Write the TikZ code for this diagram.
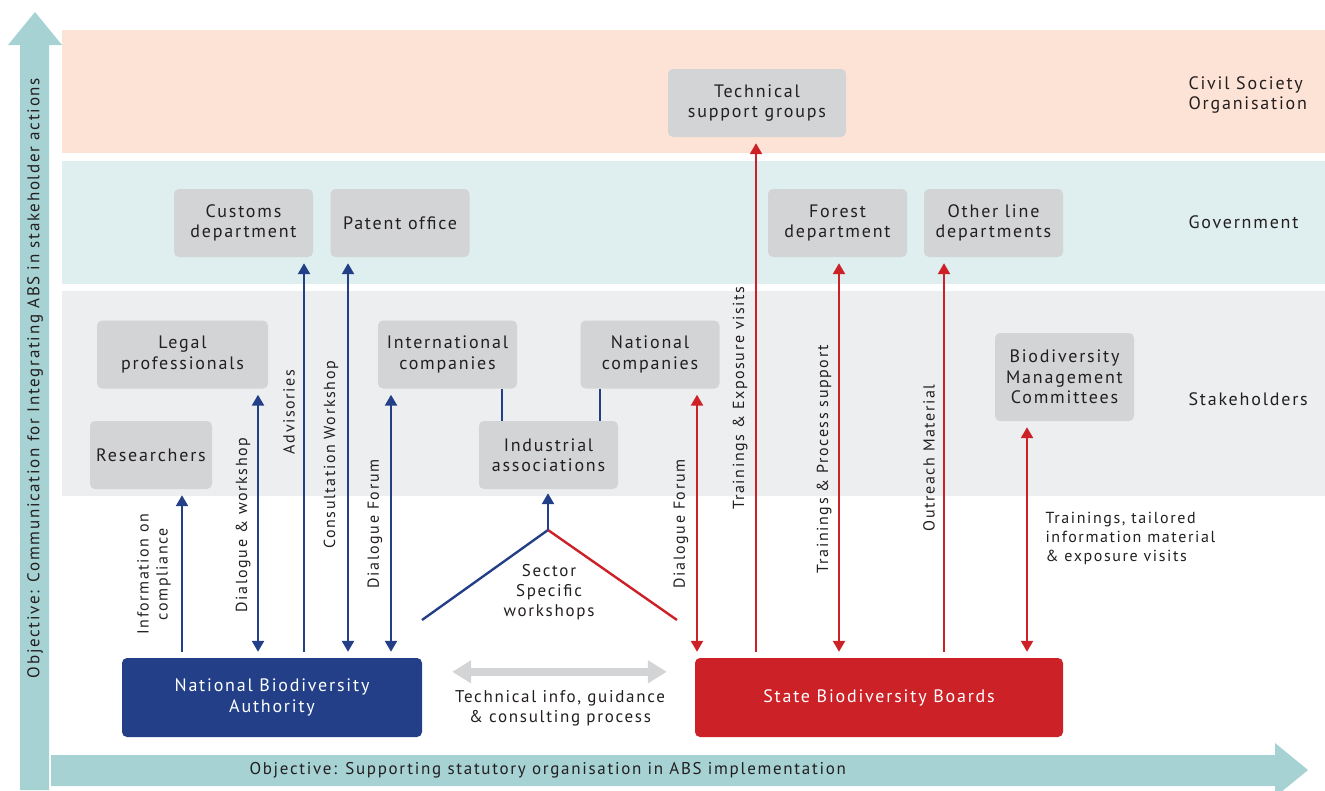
\documentclass[tikz,border=0pt]{standalone}
\usepackage{fontspec}
\setmainfont{PT Sans}[LetterSpace=10]
\usetikzlibrary{arrows.meta,calc,positioning}

\definecolor{civil}{HTML}{FDE3D6}
\definecolor{govt}{HTML}{DFEEEE}
\definecolor{stake}{HTML}{EDEEF0}
\definecolor{boxgrey}{HTML}{D3D4D6}
\definecolor{nbablue}{HTML}{223F87}
\definecolor{sbbred}{HTML}{CD2128}
\definecolor{objteal}{HTML}{A6D2D4}
\definecolor{ink}{HTML}{231F20}

\tikzset{
	>={Triangle[width=12pt,length=11pt]},
	box/.style={fill=boxgrey,rounded corners=5pt,align=center,text=ink,inner sep=0pt,
		minimum width=139pt,minimum height=68pt,font=\fontsize{18}{20.5}\selectfont},
	mainbox/.style={rounded corners=5pt,align=center,text=white,inner sep=0pt,
		minimum height=79pt,font=\fontsize{18}{20.5}\selectfont},
	band/.style={anchor=west,align=left,text=ink,font=\fontsize{18}{20}\selectfont},
	lbl/.style={align=center,text=ink,font=\fontsize{16}{19}\selectfont},
	blu/.style={draw=nbablue,line width=2.4pt,shorten <=6pt,shorten >=6pt},
	rd/.style={draw=sbbred,line width=2.4pt,shorten <=6pt,shorten >=6pt}
}

\begin{document}
\begin{tikzpicture}[x=1pt,y=-1pt]
\useasboundingbox (0,0) rectangle (1325,790);

%bands
\fill[civil] (62,30) rectangle (1325,153);
\fill[govt] (62,161) rectangle (1325,284);
\fill[stake] (62,291) rectangle (1325,496);
\node[band] (csolbl) at (1185,95) {Civil Society\\Organisation};
\node[band] (govlbl) at (1185,222) {Government};
\node[band] (stklbl) at (1185,399) {Stakeholders};

%objective arrows
\fill[objteal] (20,790) -- (20,45) -- (8,45) -- (35,12) -- (62,45) -- (49,45) -- (49,790) -- cycle;
\fill[objteal] (51,755) -- (1275,755) -- (1275,743) -- (1308,770) -- (1275,797) -- (1275,786) -- (51,786) -- cycle;
\node[lbl,rotate=90,font=\fontsize{17}{20}\selectfont] (objv) at (35,378) {Objective: Communication for Integrating ABS in stakeholder actions};
\node[lbl,anchor=west,font=\fontsize{17}{20}\selectfont] (objh) at (246,770) {Objective: Supporting statutory organisation in ABS implementation};

%actors
\node[box,minimum width=178pt] (tsg) at (757,103) {Technical\\support groups};
\node[box] (cd) at (243.5,223) {Customs\\department};
\node[box] (po) at (400,223) {Patent office};
\node[box] (fd) at (837.5,223) {Forest\\department};
\node[box] (old) at (993.5,223) {Other line\\departments};
\node[box,minimum width=171pt] (lp) at (182.5,354.5) {Legal\\professionals};
\node[box] (ic) at (447.5,354.5) {International\\companies};
\node[box] (nc) at (650,354.5) {National\\companies};
\node[box,minimum height=88pt] (bmc) at (1064.5,377) {Biodiversity\\Management\\Committees};
\node[box,minimum width=122pt] (res) at (151,455) {Researchers};
\node[box] (ia) at (548.5,455) {Industrial\\associations};

\node[mainbox,fill=nbablue,minimum width=300pt] (nba) at (272,697.5) {National Biodiversity\\Authority};
\node[mainbox,fill=sbbred,minimum width=368pt] (sbb) at (879,697.5) {State Biodiversity Boards};

%companies join the industrial associations
\draw[nbablue,line width=2.4pt] (502,0 |- ic.south) -- (502,0 |- ia.north);
\draw[nbablue,line width=2.4pt] (600,0 |- nc.south) -- (600,0 |- ia.north);

%nba links
\draw[blu,->] (182,0 |- nba.north) -- (182,0 |- res.south);
\draw[blu,->] (304,0 |- nba.north) -- (304,0 |- cd.south);
\foreach \x/\t in {258/lp,348/po,391/ic}
{
	\draw[blu,<->] (\x,0 |- nba.north) -- (\x,0 |- \t.south);
}

%sbb links
\draw[rd,->] (756,0 |- sbb.north) -- (756,0 |- tsg.south);
\draw[rd,->] (944,0 |- sbb.north) -- (944,0 |- old.south);
\foreach \x/\t in {697/nc,839/fd,1027/bmc}
{
	\draw[rd,<->] (\x,0 |- sbb.north) -- (\x,0 |- \t.south);
}

%sector specific workshops
\coordinate (swtop) at (548,530);
\coordinate (swl) at (422,620);
\coordinate (swr) at (677,620);
\draw[nbablue,line width=2.4pt] (swl) -- (swtop);
\draw[sbbred,line width=2.4pt] (swtop) -- (swr);
\draw[blu,->,shorten <=0pt,shorten >=4pt] (swtop) -- (swtop |- ia.south);
\node[lbl,font=\fontsize{17}{20}\selectfont] (swlbl) at (549,592) {Sector\\Specific\\workshops};

%technical exchange between nba and sbb
\draw[boxgrey,line width=8pt,{Triangle[width=22pt,length=19pt]}-{Triangle[width=22pt,length=19pt]}] ($(nba.north east)+(30,14)$) -- ($(sbb.north west)+(-28,14)$);
\node[lbl,font=\fontsize{17}{20}\selectfont] (tilbl) at (560,708) {Technical info, guidance\\\& consulting process};

%add annotations
\node[lbl,rotate=90] (infolbl) at (154,574) {Information on\\compliance};
\node[lbl,rotate=90] (dwlbl) at (243,525) {Dialogue \& workshop};
\node[lbl,rotate=90] (advlbl) at (289,412) {Advisories};
\node[lbl,rotate=90] (cwlbl) at (331,455) {Consultation Workshop};
\node[lbl,rotate=90] (dfblbl) at (375,524) {Dialogue Forum};
\node[lbl,rotate=90] (dfrlbl) at (681,524) {Dialogue Forum};
\node[lbl,rotate=90] (telbl) at (740,398) {Trainings \& Exposure visits};
\node[lbl,rotate=90] (tplbl) at (824,459) {Trainings \& Process support};
\node[lbl,rotate=90] (omlbl) at (929,458) {Outreach Material};
\node[lbl,anchor=west,align=left] (ttlbl) at (1042,538) {Trainings, tailored\\information material\\\& exposure visits};
\end{tikzpicture}
\end{document}
